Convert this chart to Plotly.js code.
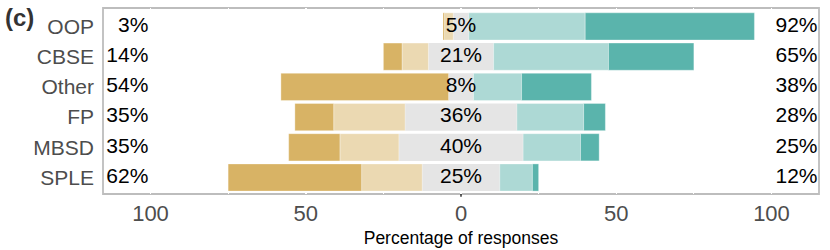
<!DOCTYPE html>
<html>
<head>
<meta charset="utf-8">
<script src="https://cdn.plot.ly/plotly-3.0.1.min.js"></script>
<style>html,body{margin:0;padding:0;background:#fff;}#chart{width:830px;height:250px;}</style>
</head>
<body>
<div id="chart"></div>
<script>
const categories = ['OOP', 'CBSE', 'Other', 'FP', 'MBSD', 'SPLE'];
const stronglyDisagree = [0.5, 6, 54, 12.5, 16.5, 43];
const disagree = [2.8, 8.5, 0, 23, 19, 19.5];
const neutral = [5, 21, 8, 36, 40, 25];
const agree = [37.5, 37, 15.5, 21.5, 18.5, 10.5];
const stronglyAgree = [54.5, 27.5, 22.5, 7, 6, 2];
const lowLabels = ['3%', '14%', '54%', '35%', '35%', '62%'];
const neutralLabels = ['5%', '21%', '8%', '36%', '40%', '25%'];
const highLabels = ['92%', '65%', '38%', '28%', '25%', '12%'];
const xTickVals = [-100, -50, 0, 50, 100];
const xTickText = ['100', '50', '0', '50', '100'];
const panelLabel = '(c)';
const xTitle = 'Percentage of responses';

const C = {
  sd: '#D8B365', d: '#EBD9B2', n: '#E5E5E5', a: '#ADD9D5', sa: '#5AB4AC'
};
const sepLine = {color: 'rgba(255,255,255,0.55)', width: 0.6};
const noLine = {width: 0};

function barTrace(vals, color, sign, line) {
  return {
    type: 'bar', orientation: 'h',
    y: categories, x: vals.map(v => sign * v),
    width: 0.9,
    marker: {color: color, line: line},
    hoverinfo: 'skip', showlegend: false
  };
}

const traces = [
  barTrace(neutral.map(v => v / 2), C.n, -1, noLine),
  barTrace(neutral.map(v => v / 2), C.n, 1, noLine),
  barTrace(disagree, C.d, -1, sepLine),
  barTrace(agree, C.a, 1, sepLine),
  barTrace(stronglyDisagree, C.sd, -1, sepLine),
  barTrace(stronglyAgree, C.sa, 1, sepLine),
  {
    type: 'scatter', mode: 'text', y: categories,
    x: categories.map(() => -100.7), text: lowLabels,
    textposition: 'middle left',
    textfont: {family: 'Liberation Sans, Arial, sans-serif', size: 21, color: '#000'},
    hoverinfo: 'skip', showlegend: false, cliponaxis: false
  },
  {
    type: 'scatter', mode: 'text', y: categories,
    x: categories.map(() => 0), text: neutralLabels,
    textposition: 'middle center',
    textfont: {family: 'Liberation Sans, Arial, sans-serif', size: 21, color: '#000'},
    hoverinfo: 'skip', showlegend: false, cliponaxis: false
  },
  {
    type: 'scatter', mode: 'text', y: categories,
    x: categories.map(() => 101.3), text: highLabels,
    textposition: 'middle right',
    textfont: {family: 'Liberation Sans, Arial, sans-serif', size: 21, color: '#000'},
    hoverinfo: 'skip', showlegend: false, cliponaxis: false
  }
];

const layout = {
  width: 830, height: 250,
  margin: {l: 103, r: 11, t: 8, b: 56},
  paper_bgcolor: '#fff', plot_bgcolor: '#fff',
  barmode: 'relative',
  font: {family: 'Liberation Sans, Arial, sans-serif'},
  xaxis: {
    range: [-115.3, 115.3],
    tickvals: xTickVals, ticktext: xTickText,
    tickfont: {size: 22, color: '#4D4D4D'},
    showgrid: true, gridcolor: '#ffffff', gridwidth: 1.5,
    minor: {dtick: 25, tick0: 0, showgrid: true, gridcolor: '#ffffff', gridwidth: 1.2},
    zeroline: false, showline: false, ticks: '',
    ticklabelstandoff: 4,
    title: {text: xTitle, font: {size: 17.5, color: '#000'}, standoff: 6},
    fixedrange: true
  },
  yaxis: {
    type: 'category',
    categoryorder: 'array', categoryarray: categories,
    range: [5.546, -0.61],
    tickfont: {size: 21, color: '#4D4D4D'},
    showgrid: false, zeroline: false, showline: false, ticks: '',
    ticklabelstandoff: 8,
    fixedrange: true
  },
  shapes: [
    {type: 'rect', xref: 'paper', yref: 'paper', x0: 0, x1: 1, y0: 0, y1: 1,
     line: {color: '#BDBDBD', width: 1.8}, fillcolor: 'rgba(0,0,0,0)', layer: 'below'},
    {type: 'line', xref: 'x', yref: 'paper', x0: 0, x1: 0, y0: -0.015, y1: 1,
     line: {color: '#000', width: 1.2, dash: 'dash'}, layer: 'between'}
  ],
  annotations: [
    {text: '<b>' + panelLabel + '</b>', xref: 'paper', yref: 'paper',
     x: -0.139, y: 1.03, xanchor: 'left', yanchor: 'top', showarrow: false,
     font: {size: 24, color: '#333'}}
  ]
};

Plotly.newPlot('chart', traces, layout, {displayModeBar: false, staticPlot: true});
</script>
</body>
</html>
